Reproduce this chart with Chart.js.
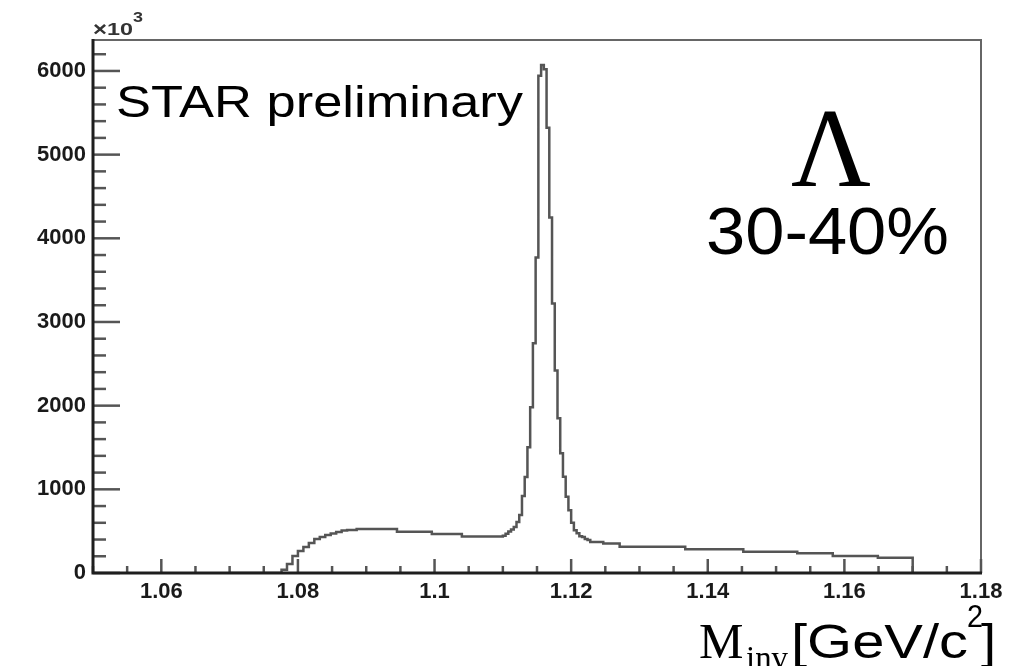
<!DOCTYPE html>
<html><head><meta charset="utf-8">
<script src="https://cdn.jsdelivr.net/npm/chart.js@4.4.0/dist/chart.umd.min.js"></script>
<style>html,body{margin:0;padding:0;background:#fff;}#wrap{width:1015px;height:666px;position:relative;}</style>
</head><body><div id="wrap"><canvas id="c" width="1015" height="666"></canvas></div>
<script>
// Bin low edges (GeV/c^2); last entry is the upper edge of the last bin
const binEdges = [1.0700, 1.0776, 1.0784, 1.0792, 1.0800, 1.0808, 1.0816, 1.0824, 1.0832, 1.0840,
  1.0848, 1.0856, 1.0864, 1.0872, 1.0886, 1.0945, 1.0996, 1.1040,
  1.1100, 1.1104, 1.1108, 1.1112, 1.1116, 1.1120, 1.1124, 1.1128, 1.1132, 1.1136,
  1.1140, 1.1144, 1.1148, 1.1152, 1.1156, 1.1160, 1.1164, 1.1168, 1.1172, 1.1176,
  1.1180, 1.1184, 1.1188, 1.1192, 1.1196, 1.1200, 1.1204, 1.1208, 1.1212, 1.1216,
  1.1220, 1.1224, 1.1228, 1.1247, 1.1271, 1.1367, 1.1452, 1.1531, 1.1583, 1.1649, 1.1700];
// Counts (units of 10^3) per bin
const counts = [0, 40, 107, 203, 262, 310, 358, 406, 430, 453,
  471, 489, 507, 515, 525, 493, 465, 436,
  445, 470, 495, 520, 549, 609, 692, 919, 1146, 1504,
  1981, 2745, 3771, 5943, 6070, 6020, 5320, 4250, 3220, 2420,
  1850, 1430, 1150, 910, 750, 600, 510, 475, 440, 430,
  405, 395, 370, 352, 314, 283, 254, 235, 203, 183];
const xTickValues = [1.06, 1.08, 1.10, 1.12, 1.14, 1.16, 1.18];
const xTickLabels = ["1.06", "1.08", "1.1", "1.12", "1.14", "1.16", "1.18"];
const yTickValues = [0, 1000, 2000, 3000, 4000, 5000, 6000];
const yTickLabels = ["0", "1000", "2000", "3000", "4000", "5000", "6000"];
const xRange = [1.05, 1.18];
const yRange = [0, 6370];

// histogram outline: each count holds from its edge to the next edge
const points = [];
counts.forEach((c, i) => { points.push({x: binEdges[i], y: c}); points.push({x: binEdges[i + 1], y: c}); });
points.push({x: binEdges[binEdges.length - 1], y: 0});

function fitText(ctx, text, font, x, y, w, color) {
  ctx.save();
  ctx.font = font;
  ctx.fillStyle = color || '#000';
  ctx.textBaseline = 'alphabetic';
  ctx.textAlign = 'left';
  const m = ctx.measureText(text).width;
  ctx.translate(x, y);
  if (w) ctx.scale(w / m, 1);
  ctx.fillText(text, 0, 0);
  ctx.restore();
}

const rootStyle = {
  id: 'rootStyle',
  afterDatasetsDraw(chart) {
    const {ctx, chartArea: a, scales: {x, y}} = chart;
    ctx.save();
    ctx.strokeStyle = '#666'; ctx.lineWidth = 2;
    ctx.beginPath(); ctx.moveTo(a.left, a.top); ctx.lineTo(a.right, a.top); ctx.lineTo(a.right, a.bottom); ctx.stroke();
    ctx.strokeStyle = '#555'; ctx.lineWidth = 2.5;
    for (let i = 0; i * 200 <= yRange[1]; i++) {
      const py = y.getPixelForValue(i * 200);
      const len = (i % 5 === 0) ? 27 : 13;
      ctx.beginPath(); ctx.moveTo(a.left, py); ctx.lineTo(a.left + len, py); ctx.stroke();
    }
    for (let i = 0; i <= 26; i++) {
      const v = xRange[0] + i * 0.005;
      const px = x.getPixelForValue(v);
      const len = (i % 4 === 2) ? 14 : 7;
      ctx.beginPath(); ctx.moveTo(px, a.bottom); ctx.lineTo(px, a.bottom - len); ctx.stroke();
    }
    ctx.strokeStyle = '#1e1e1e'; ctx.lineWidth = 3;
    ctx.beginPath(); ctx.moveTo(a.left, a.top - 1); ctx.lineTo(a.left, a.bottom); ctx.lineTo(a.right + 1, a.bottom); ctx.stroke();
    ctx.restore();
  },
  afterDraw(chart) {
    const ctx = chart.ctx;
    fitText(ctx, '\u00d7', 'bold 21px "Liberation Sans"', 93, 36, 14, '#333');
    fitText(ctx, '10', 'bold 17px "Liberation Sans"', 107, 35, 26, '#333');
    fitText(ctx, '3', 'bold 15px "Liberation Sans"', 133, 22, 10, '#333');
    fitText(ctx, 'STAR preliminary', '45px "Liberation Sans"', 116, 117, 407, '#000');
    fitText(ctx, '\u039b', '112px "Liberation Serif"', 791, 186, 80, '#000');
    fitText(ctx, '30-40%', '66px "Liberation Sans"', 706, 254, 243, '#000');
    fitText(ctx, 'M', '50px "Liberation Serif"', 699, 658, null, '#000');
    fitText(ctx, 'inv', '33px "Liberation Serif"', 746, 669, 42, '#000');
    fitText(ctx, '[GeV/c', '48px "Liberation Sans"', 791, 658, 177, '#000');
    fitText(ctx, '2', '32px "Liberation Sans"', 967, 627, 16, '#000');
    fitText(ctx, ']', '48px "Liberation Sans"', 981, 658, 15, '#000');
  }
};

new Chart(document.getElementById('c'), {
  type: 'line',
  data: {datasets: [{data: points, borderColor: '#555', borderWidth: 2.5,
    pointRadius: 0, fill: false, tension: 0}]},
  options: {
    responsive: false, animation: false, devicePixelRatio: 1,
    layout: {padding: {top: 40, right: 34, left: 0, bottom: 0}},
    plugins: {legend: {display: false}, tooltip: {enabled: false}},
    scales: {
      x: {type: 'linear', min: xRange[0], max: xRange[1],
        grid: {display: false, drawTicks: false}, border: {display: false},
        afterFit: s => { s.height = 93; },
        afterBuildTicks: s => { s.ticks = xTickValues.map(v => ({value: v})); },
        ticks: {padding: 6, color: '#1a1a1a', font: {family: '"Liberation Sans"', size: 22, weight: 'bold'},
          maxRotation: 0, autoSkip: false,
          callback: (v, i) => xTickLabels[i]}},
      y: {type: 'linear', min: yRange[0], max: yRange[1],
        grid: {display: false, drawTicks: false}, border: {display: false},
        afterFit: s => { s.width = 93; },
        afterBuildTicks: s => { s.ticks = yTickValues.map(v => ({value: v})); },
        ticks: {padding: 7, color: '#1a1a1a', font: {family: '"Liberation Sans"', size: 22, weight: 'bold'},
          autoSkip: false,
          callback: (v, i) => yTickLabels[i]}}
    }
  },
  plugins: [rootStyle]
});
</script></body></html>
